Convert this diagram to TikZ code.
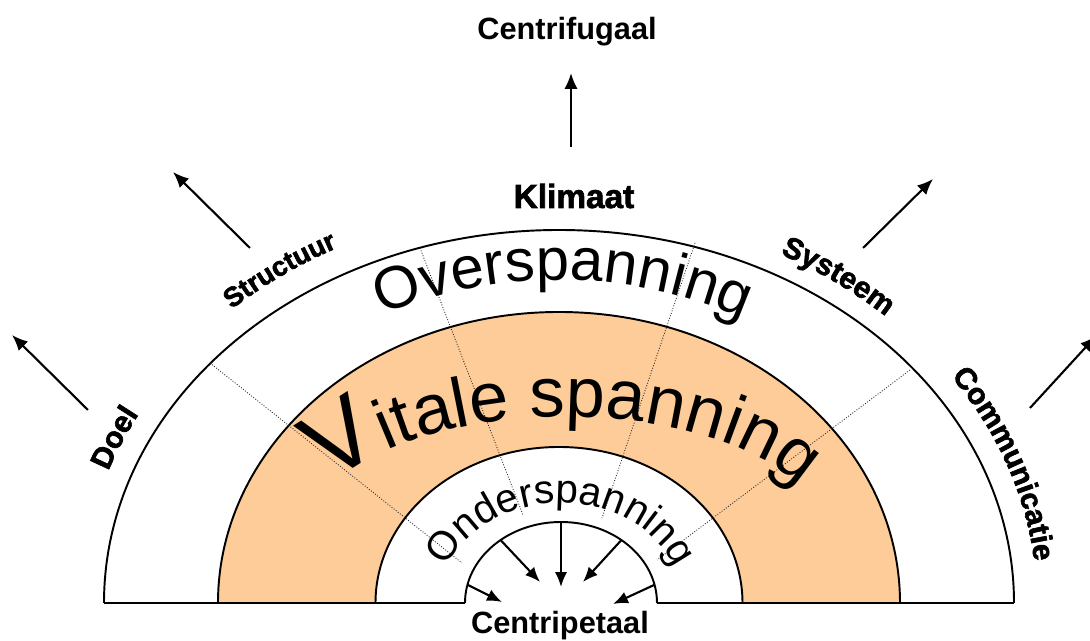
\documentclass[tikz,border=0pt]{standalone}
\usepackage{fontspec}
\setmainfont{Liberation Sans}
\newfontfamily\heavyfont{Liberation Sans Bold}[FakeBold=2]
\usetikzlibrary{arrows.meta,positioning,calc,decorations.text}
\definecolor{vitalorange}{RGB}{253,204,153}
\newcommand{\zonefont}[1]{\fontsize{#1}{#1}\selectfont}
\tikzset{
  ring/.style={draw=black, line width=1.1pt},
  sectorline/.style={draw=black!85, densely dotted, line width=0.5pt},
  outward/.style={-{Latex[length=9pt,width=7.5pt]}, line width=1.2pt},
  inward/.style={-{Latex[length=8.5pt,width=7pt]}, line width=1.2pt},
  pole/.style={font=\bfseries\zonefont{17.5}},
  curved/.style={decorate, decoration={text along path, text align=center, text={#1}}}
}

\begin{document}
\begin{tikzpicture}[x=0.02cm, y=0.02cm]
  \useasboundingbox (0,0) rectangle (1090,641);
  \coordinate (C) at (559,38);
  \coordinate (c) at (561,38);

  % tension zones
  \path[ring, fill=white] (104,38) arc[start angle=180, end angle=0, x radius=455, y radius=373];
  \path[ring, fill=vitalorange] (218,38) arc[start angle=180, end angle=0, x radius=341, y radius=291];
  \path[ring, fill=white] (375.5,38) arc[start angle=180, end angle=0, x radius=183.5, y radius=156];
  \path[ring, fill=white] (465,38) arc[start angle=180, end angle=0, x radius=96, y radius=81];
  \draw[ring] (104,38) -- (465,38) (657,38) -- (1014,38);

  % sector borders
  \foreach \i/\ax/\ay/\bx/\by in {1/210/278/462/78, 2/420/393/523/126, 3/695/398/602/123, 4/910/271/657/81}{
    \coordinate (s\i) at (\ax,\ay);
    \coordinate (t\i) at (\bx,\by);
    \draw[sectorline] (s\i) -- (t\i);
  }

  % zone names
  \path[curved={|\zonefont{34}|Overspanning}] ([shift={(559,-101)}]115:462) arc[start angle=115, end angle=64, radius=462];
  \path[curved={|\zonefont{56}|V|\zonefont{40}|itale spanning}] ([shift={(566,104)}]175:258 and 120) arc[start angle=175, end angle=5, x radius=258, y radius=120];
  \path[curved={|\zonefont{23}|Onderspanning}] ([shift={(c)}]170:122 and 100) arc[start angle=170, end angle=10, x radius=122, y radius=100];

  % dimensions round the edge
  \path[curved={|\heavyfont\zonefont{17}|Doel}] ([shift={(C)}]176:478 and 396) arc[start angle=176, end angle=137, x radius=478, y radius=396];
  \path[curved={|\heavyfont\zonefont{15.5}|Structuur}] ([shift={(C)}]145:482 and 400) arc[start angle=145, end angle=106, x radius=482, y radius=400];
  \path[curved={|\heavyfont\zonefont{17}|Systeem}] ([shift={(C)}]74:476 and 394) arc[start angle=74, end angle=34, x radius=476, y radius=394];
  \path[curved={|\heavyfont\zonefont{17}|Communicatie}] ([shift={(C)}]45:478 and 396) arc[start angle=45, end angle=-5, x radius=478, y radius=396];

  \node[pole, anchor=base] (cf) at (567,601) {Centrifugaal};
  \node[pole, font=\heavyfont\zonefont{19}, anchor=base] (kl) at (574,433) {Klimaat};
  \node[pole, anchor=base] (cp) at (560,7) {Centripetaal};

  % forces
  \foreach \n/\ax/\ay/\bx/\by in {doel/88/231/12/306, structuur/250/393/173/469, klimaat/571/494/571/568, systeem/863/393/933/462, communicatie/1030/233/1096/305}{
    \coordinate (\n-from) at (\ax,\ay);
    \coordinate (\n-to) at (\bx,\by);
    \draw[outward] (\n-from) -- (\n-to);
  }
  \foreach \a/\bx/\by in {167/502/39, 129/540/59, 90/561/54, 51/583/59, 13/613/37}{
    \coordinate (in\a) at ([shift={(c)}]\a:96 and 81);
    \coordinate (tip\a) at (\bx,\by);
    \draw[inward] (in\a) -- (tip\a);
  }
\end{tikzpicture}
\end{document}
